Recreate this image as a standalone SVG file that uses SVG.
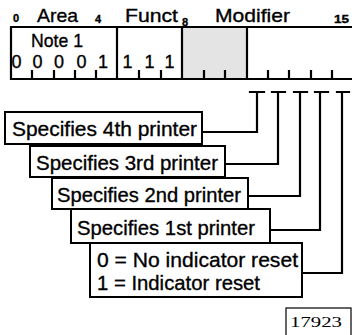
<svg xmlns="http://www.w3.org/2000/svg" width="352" height="335" viewBox="0 0 352 335">
<style>
.ln{stroke:#000;stroke-width:2.2;fill:none;stroke-linecap:square}
.bx{stroke:#000;stroke-width:2;fill:#fff}
.t{font-family:"Liberation Sans",Arial,sans-serif;fill:#000;stroke:#000;stroke-width:0.35}
.lbl{font-size:21px}
.hd{font-size:19px}
.num{font-size:11px;font-weight:bold}
.dg{font-size:18px;text-anchor:middle}
</style>
<rect width="352" height="335" fill="#fff"/>
<g id="register">
<rect x="182" y="27" width="65" height="52" fill="#e4e4e4"/>
<path class="ln" d="M360 27H11V79H360M117 27V79M182 27V79M247 27V79"/>
<path class="ln" d="M32 79V71M54 79V71M75 79V71M96 79V71M139 79V71M161 79V71M204 79V71M225 79V71M268 79V71M289 79V71M311 79V71M332 79V71"/>
<text class="t num" x="13" y="22">0</text>
<text class="t hd" x="37" y="22" textLength="41" lengthAdjust="spacingAndGlyphs">Area</text>
<text class="t num" x="95" y="23">4</text>
<text class="t hd" x="125" y="22" textLength="53" lengthAdjust="spacingAndGlyphs">Funct</text>
<text class="t num" x="182" y="26">8</text>
<text class="t hd" x="215" y="22" textLength="75" lengthAdjust="spacingAndGlyphs">Modifier</text>
<text class="t num" x="334" y="23" textLength="15" lengthAdjust="spacingAndGlyphs">15</text>
<text class="t hd" x="31" y="47" textLength="52" lengthAdjust="spacingAndGlyphs">Note 1</text>
<text class="t dg" x="16.5" y="68">0</text>
<text class="t dg" x="37.5" y="68">0</text>
<text class="t dg" x="59" y="68">0</text>
<text class="t dg" x="81.5" y="68">0</text>
<text class="t dg" x="103" y="68">1</text>
<text class="t dg" x="127.5" y="68">1</text>
<text class="t dg" x="149.5" y="68">1</text>
<text class="t dg" x="169.5" y="68">1</text>
</g>
<g id="connectors">
<path class="ln" d="M250 92H264M257 92V132H202"/>
<path class="ln" d="M272 92H285M278 92V164H225"/>
<path class="ln" d="M294 92H307M300 92V196H248"/>
<path class="ln" d="M315 92H328M320 92V230H270"/>
<path class="ln" d="M337 92H349M342 92V273H302"/>
</g>
<g id="p4">
<rect class="bx" x="5" y="112" width="197" height="32"/>
<text class="t lbl" x="12" y="136" textLength="185" lengthAdjust="spacingAndGlyphs">Specifies 4th printer</text>
</g>
<g id="p3">
<rect class="bx" x="30" y="146" width="195" height="31"/>
<text class="t lbl" x="36" y="170" textLength="182" lengthAdjust="spacingAndGlyphs">Specifies 3rd printer</text>
</g>
<g id="p2">
<rect class="bx" x="52" y="178" width="196" height="31"/>
<text class="t lbl" x="57" y="202" textLength="184" lengthAdjust="spacingAndGlyphs">Specifies 2nd printer</text>
</g>
<g id="p1">
<rect class="bx" x="71" y="209" width="199" height="34"/>
<text class="t lbl" x="77" y="235" textLength="178" lengthAdjust="spacingAndGlyphs">Specifies 1st printer</text>
</g>
<g id="reset">
<rect class="bx" x="90" y="243" width="212" height="54"/>
<text class="t lbl" x="97" y="267" textLength="201" lengthAdjust="spacingAndGlyphs">0 = No indicator reset</text>
<text class="t lbl" x="97" y="290" textLength="163" lengthAdjust="spacingAndGlyphs">1 = Indicator reset</text>
</g>
<g id="figno">
<rect x="286" y="308" width="65" height="40" fill="#fff" stroke="#000" stroke-width="1.2"/>
<text x="290" y="327" font-family="'Liberation Serif','Times New Roman',serif" font-size="14" textLength="52" lengthAdjust="spacingAndGlyphs">17923</text>
</g>
</svg>
